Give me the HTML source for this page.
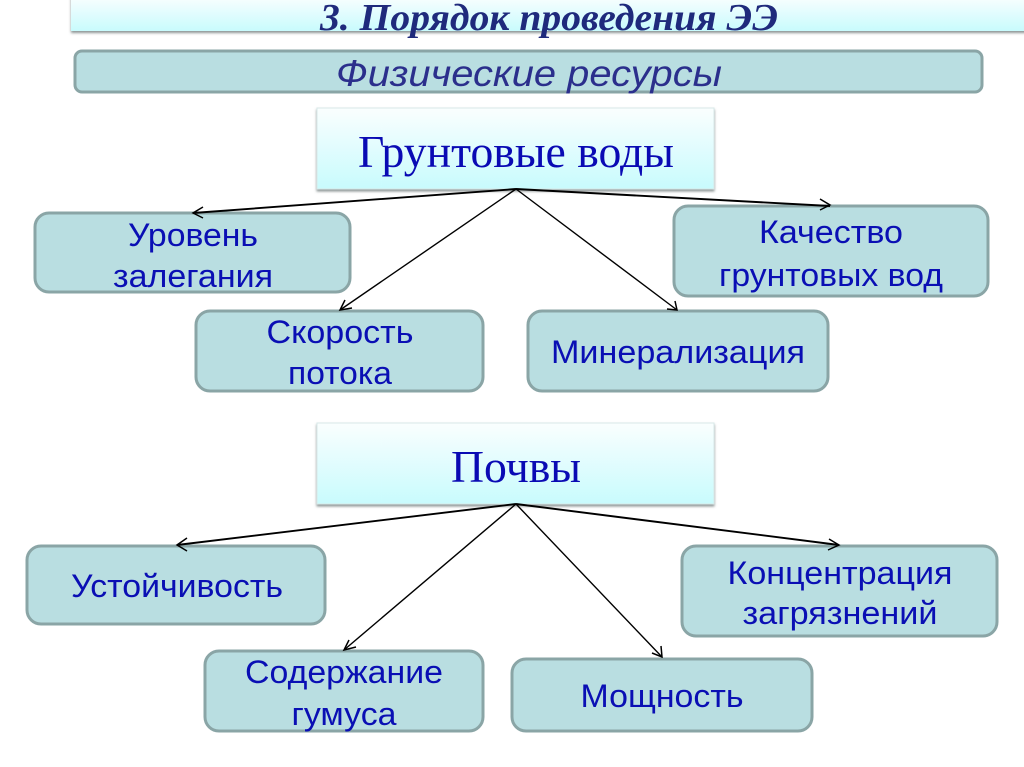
<!DOCTYPE html>
<html lang="ru">
<head>
<meta charset="utf-8">
<title>Физические ресурсы</title>
<style>
html,body{margin:0;padding:0;background:#fff;width:1024px;height:767px;overflow:hidden}
svg{display:block}
.box{fill:#b9dee1;stroke:#8aa5a6;stroke-width:3}
.t{font-family:"Liberation Sans",Arial,sans-serif;font-size:32px;fill:#0a0fb4;text-anchor:middle}
.s{font-family:"Liberation Serif","Times New Roman",serif;font-size:46px;fill:#0a0ab4;text-anchor:middle}
.l{stroke:#000;fill:none;stroke-width:1.4}
.o{stroke:#000;fill:none;stroke-width:1.9}
.a{stroke:#000;fill:none;stroke-width:1.5}
</style>
</head>
<body>
<svg width="1024" height="767" viewBox="0 0 1024 767" xmlns="http://www.w3.org/2000/svg">
<defs>
<linearGradient id="g" x1="0" y1="0" x2="0" y2="1">
<stop offset="0" stop-color="#fafefe"/>
<stop offset="1" stop-color="#c8fbfd"/>
</linearGradient>
<filter id="sh" x="-5%" y="-10%" width="110%" height="125%">
<feDropShadow dx="0" dy="2" stdDeviation="1.2" flood-color="#707a7a" flood-opacity=".8"/>
</filter>
</defs>

<rect x="71" y="-4" width="960" height="35" fill="url(#g)" filter="url(#sh)"/>
<text x="549" y="30" text-anchor="middle" font-family="'Liberation Serif',serif" font-style="italic" font-weight="bold" font-size="38" fill="#1f2a7c" textLength="458" lengthAdjust="spacingAndGlyphs">3. Порядок проведения ЭЭ</text>

<rect x="75" y="51" width="907" height="41" rx="7" class="box"/>
<text x="529" y="86" text-anchor="middle" font-family="'Liberation Sans',sans-serif" font-style="italic" font-size="37" fill="#2b2f8c" textLength="386" lengthAdjust="spacingAndGlyphs">Физические ресурсы</text>

<rect x="317" y="108" width="397" height="81" fill="url(#g)" stroke="#d8e8e8" stroke-width="1" filter="url(#sh)"/>
<text class="s" x="516" y="167" textLength="316" lengthAdjust="spacingAndGlyphs">Грунтовые воды</text>

<rect x="317" y="423" width="397" height="81" fill="url(#g)" stroke="#d8e8e8" stroke-width="1" filter="url(#sh)"/>
<text class="s" x="516" y="482" textLength="130" lengthAdjust="spacingAndGlyphs">Почвы</text>

<rect x="35" y="213" width="315" height="79" rx="14" class="box"/>
<text class="t" x="193" y="246" textLength="130" lengthAdjust="spacingAndGlyphs">Уровень</text>
<text class="t" x="193" y="287" textLength="160" lengthAdjust="spacingAndGlyphs">залегания</text>

<rect x="196" y="311" width="287" height="80" rx="14" class="box"/>
<text class="t" x="340" y="343" textLength="147" lengthAdjust="spacingAndGlyphs">Скорость</text>
<text class="t" x="340" y="384" textLength="104" lengthAdjust="spacingAndGlyphs">потока</text>

<rect x="528" y="311" width="300" height="80" rx="14" class="box"/>
<text class="t" x="678" y="363" textLength="254" lengthAdjust="spacingAndGlyphs">Минерализация</text>

<rect x="674" y="206" width="314" height="90" rx="14" class="box"/>
<text class="t" x="831" y="243" textLength="144" lengthAdjust="spacingAndGlyphs">Качество</text>
<text class="t" x="831" y="286" textLength="224" lengthAdjust="spacingAndGlyphs">грунтовых вод</text>

<rect x="27" y="546" width="298" height="78" rx="14" class="box"/>
<text class="t" x="177" y="597" textLength="212" lengthAdjust="spacingAndGlyphs">Устойчивость</text>

<rect x="205" y="651" width="278" height="80" rx="14" class="box"/>
<text class="t" x="344" y="683" textLength="198" lengthAdjust="spacingAndGlyphs">Содержание</text>
<text class="t" x="344" y="725" textLength="105" lengthAdjust="spacingAndGlyphs">гумуса</text>

<rect x="512" y="659" width="300" height="72" rx="14" class="box"/>
<text class="t" x="662" y="707" textLength="163" lengthAdjust="spacingAndGlyphs">Мощность</text>

<rect x="682" y="546" width="315" height="90" rx="14" class="box"/>
<text class="t" x="840" y="584" textLength="225" lengthAdjust="spacingAndGlyphs">Концентрация</text>
<text class="t" x="840" y="624" textLength="195" lengthAdjust="spacingAndGlyphs">загрязнений</text>

<path class="o" d="M516 189 L193 213 M516 189 L830 206"/>
<path class="l" d="M516 189 L340 310 M516 189 L677 310"/>
<path class="a" d="M203 207 L193 213 L203 218 M345 300 L340 310 L352 308 M675 301 L677 310 L667 309 M820 199 L830 205 L820 210"/>

<path class="o" d="M516 504 L177 545 M516 504 L839 545"/>
<path class="l" d="M516 504 L344 650 M516 504 L662 657"/>
<path class="a" d="M187 538 L177 545 L187 551 M349 640 L344 650 L356 647 M661 646 L662 657 L652 653 M829 539 L839 545 L828 550"/>
</svg>
</body>
</html>
